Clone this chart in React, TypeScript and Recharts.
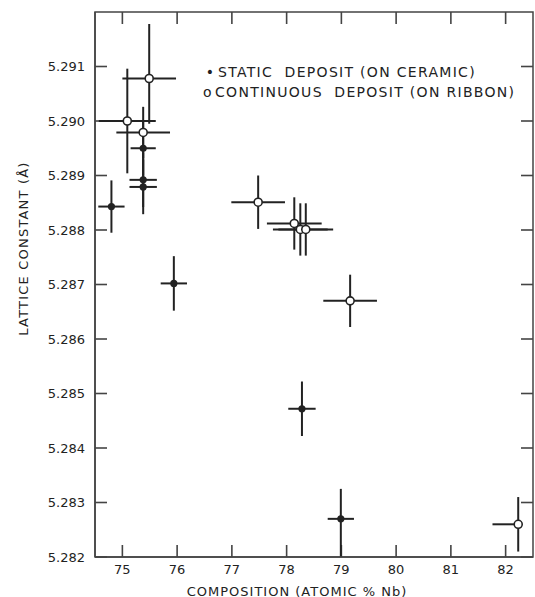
import { ScatterChart, Scatter, XAxis, YAxis, ErrorBar, ReferenceArea, ReferenceLine } from 'recharts';

const xTicks = [75, 76, 77, 78, 79, 80, 81, 82];
const yTicks = [5.282, 5.283, 5.284, 5.285, 5.286, 5.287, 5.288, 5.289, 5.29, 5.291];

// static deposit (on ceramic) - filled dots
const staticComp = [74.8, 75.38, 75.38, 75.38, 75.94, 78.28, 78.99];
const staticLattice = [5.28843, 5.2895, 5.28892, 5.28879, 5.28702, 5.28472, 5.2827];
const staticCompErr = [0.24, 0.23, 0.25, 0.25, 0.24, 0.25, 0.24];
const staticLatticeErr = [0.00048, 0.0005, 0.0005, 0.0005, 0.0005, 0.0005, [0.0007, 0.00055]];

// continuous deposit (on ribbon) - open circles
const ribbonComp = [75.09, 75.49, 75.38, 77.48, 78.14, 78.25, 78.35, 79.16, 82.23];
const ribbonLattice = [5.29, 5.29078, 5.28979, 5.28851, 5.28812, 5.28801, 5.28801, 5.2867, 5.2826];
const ribbonCompErr = [0.52, 0.49, 0.49, 0.49, 0.5, 0.5, 0.5, 0.49, [0.47, 0]];
const ribbonLatticeErr = [0.00096, [0.00083, 0.001], 0.00047, 0.00049, 0.00048, 0.00048, 0.00048, 0.00048, 0.0005];

const staticData = staticComp.map((x, i) => ({
  x,
  y: staticLattice[i],
  ex: staticCompErr[i],
  ey: staticLatticeErr[i],
}));

const ribbonData = ribbonComp.map((x, i) => ({
  x,
  y: ribbonLattice[i],
  ex: ribbonCompErr[i],
  ey: ribbonLatticeErr[i],
}));

const X_DOMAIN = [74.5, 82.5];
const Y_DOMAIN = [5.282, 5.292];

const W = 535;
const H = 597;
const MARGIN = { top: 12, right: 2, bottom: 0, left: 0 };
const Y_AXIS_W = 95;
const X_AXIS_H = 40;
const PLOT_W = W - MARGIN.left - MARGIN.right - Y_AXIS_W;
const PLOT_H = H - MARGIN.top - MARGIN.bottom - X_AXIS_H;

// inward tick marks, ~12px long, expressed in axis units
const TICK_PX = 12;
const TICK_DX = (TICK_PX / PLOT_W) * (X_DOMAIN[1] - X_DOMAIN[0]);
const TICK_DY = (TICK_PX / PLOT_H) * (Y_DOMAIN[1] - Y_DOMAIN[0]);

const INK = '#222';
const FRAME = '#444';
const FONT = '"DejaVu Sans", sans-serif';

const FilledDot = (props: any) => (
  <circle cx={props.cx} cy={props.cy} r={3.6} fill={INK} />
);

const OpenDot = (props: any) => (
  <circle cx={props.cx} cy={props.cy} r={4} fill="#fff" stroke={INK} strokeWidth={1.6} />
);

const YTick = (props: any) => (
  <text
    x={props.x}
    y={props.y}
    textAnchor="end"
    dominantBaseline="central"
    fontSize={13}
    fontFamily={FONT}
    fill={INK}
  >
    {Number(props.payload.value).toFixed(3)}
  </text>
);

const XTick = (props: any) => (
  <text
    x={props.x}
    y={props.y}
    dy="0.71em"
    textAnchor="middle"
    fontSize={13}
    fontFamily={FONT}
    fill={INK}
  >
    {props.payload.value}
  </text>
);

const YLabel = (props: any) => {
  const vb = props.viewBox;
  const cx = 23;
  const cy = vb.y + vb.height / 2 - 36;
  return (
    <text
      x={cx}
      y={cy}
      transform={`rotate(-90 ${cx} ${cy})`}
      textAnchor="middle"
      dominantBaseline="central"
      fontSize={13}
      fontFamily={FONT}
      letterSpacing={1.2}
      fill={INK}
    >
      LATTICE CONSTANT (Å)
    </text>
  );
};

const XLabel = (props: any) => {
  const vb = props.viewBox;
  return (
    <text
      x={vb.x + vb.width / 2 - 17}
      y={591}
      textAnchor="middle"
      dominantBaseline="central"
      fontSize={13}
      fontFamily={FONT}
      letterSpacing={1}
      fill={INK}
    >
      COMPOSITION (ATOMIC % Nb)
    </text>
  );
};

const tickLineProps = { stroke: FRAME, strokeWidth: 1.6, ifOverflow: 'visible' as const };

export default function App() {
  return (
    <div style={{ position: 'absolute', left: 0, top: 0, width: W, height: H, background: '#fff' }}>
      <ScatterChart width={W} height={H} margin={MARGIN}>
        <XAxis
          type="number"
          dataKey="x"
          domain={X_DOMAIN}
          ticks={xTicks}
          interval={0}
          allowDataOverflow
          height={X_AXIS_H}
          tickSize={0}
          tickMargin={8}
          tickLine={false}
          tick={XTick}
          axisLine={{ stroke: FRAME, strokeWidth: 1.5 }}
          label={XLabel}
        />
        <YAxis
          type="number"
          dataKey="y"
          domain={Y_DOMAIN}
          ticks={yTicks}
          interval={0}
          allowDataOverflow
          width={Y_AXIS_W}
          tickSize={0}
          tickMargin={10}
          tickLine={false}
          tick={YTick}
          axisLine={{ stroke: FRAME, strokeWidth: 1.5 }}
          label={YLabel}
        />
        <ReferenceArea
          x1={X_DOMAIN[0]}
          x2={X_DOMAIN[1]}
          y1={Y_DOMAIN[0]}
          y2={Y_DOMAIN[1]}
          fill="none"
          stroke={FRAME}
          strokeWidth={1.5}
          ifOverflow="visible"
        />
        {xTicks.map((t) => (
          <ReferenceLine
            key={`b${t}`}
            segment={[{ x: t, y: Y_DOMAIN[0] }, { x: t, y: Y_DOMAIN[0] + TICK_DY }]}
            {...tickLineProps}
          />
        ))}
        {xTicks.map((t) => (
          <ReferenceLine
            key={`t${t}`}
            segment={[{ x: t, y: Y_DOMAIN[1] }, { x: t, y: Y_DOMAIN[1] - TICK_DY }]}
            {...tickLineProps}
          />
        ))}
        {yTicks.map((t) => (
          <ReferenceLine
            key={`l${t}`}
            segment={[{ x: X_DOMAIN[0], y: t }, { x: X_DOMAIN[0] + TICK_DX, y: t }]}
            {...tickLineProps}
          />
        ))}
        {yTicks.map((t) => (
          <ReferenceLine
            key={`r${t}`}
            segment={[{ x: X_DOMAIN[1], y: t }, { x: X_DOMAIN[1] - TICK_DX, y: t }]}
            {...tickLineProps}
          />
        ))}
        <Scatter data={staticData} shape={FilledDot} isAnimationActive={false}>
          <ErrorBar dataKey="ex" direction="x" width={0} stroke={INK} strokeWidth={2} />
          <ErrorBar dataKey="ey" direction="y" width={0} stroke={INK} strokeWidth={2} />
        </Scatter>
        <Scatter data={ribbonData} shape={OpenDot} isAnimationActive={false}>
          <ErrorBar dataKey="ex" direction="x" width={0} stroke={INK} strokeWidth={2} />
          <ErrorBar dataKey="ey" direction="y" width={0} stroke={INK} strokeWidth={2} />
        </Scatter>
      </ScatterChart>
      <div
        style={{
          position: 'absolute',
          left: 203,
          top: 62,
          fontFamily: FONT,
          fontSize: 14,
          letterSpacing: 1.3,
          color: INK,
          lineHeight: '20px',
          whiteSpace: 'nowrap',
        }}
      >
        <div>
          <span style={{ display: 'inline-block', width: 15, textAlign: 'center' }}>•</span>
          STATIC&nbsp; DEPOSIT (ON CERAMIC)
        </div>
        <div>
          <span style={{ display: 'inline-block', width: 12, textAlign: 'left' }}>o</span>
          CONTINUOUS&nbsp; DEPOSIT (ON RIBBON)
        </div>
      </div>
    </div>
  );
}
